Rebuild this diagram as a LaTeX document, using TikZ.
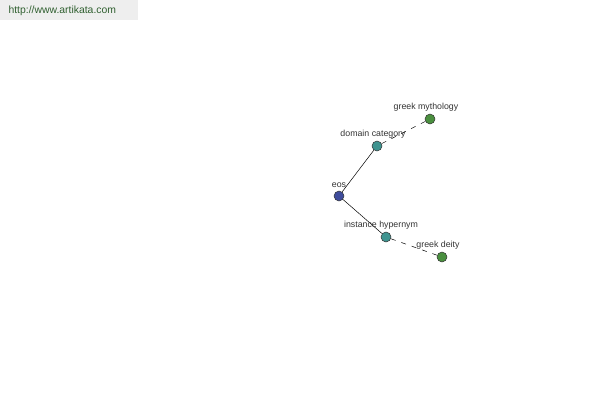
\documentclass[tikz,border=0pt]{standalone}
\usepackage{fontspec}
\setmainfont{Liberation Sans}
\definecolor{rootblue}{HTML}{3F4C9C}
\definecolor{relteal}{HTML}{3F9490}
\definecolor{leafgreen}{HTML}{4A8F3F}
\definecolor{labelgray}{HTML}{333333}
\definecolor{bannergray}{HTML}{EEEEEE}
\definecolor{bannertext}{HTML}{2F5F2F}

\begin{document}
\begin{tikzpicture}[x=1pt, y=-1pt, every node/.style={font=\fontsize{8.8}{10}\selectfont, text=labelgray},
	dot/.style={circle, draw=black!80, line width=0.5pt, minimum size=10pt, inner sep=0pt},
	link/.style={black, line width=0.5pt},
	weak/.style={link, dash pattern=on 5pt off 6pt}]
	\useasboundingbox (0,0) rectangle (600,400);
	\fill[bannergray] (0,0) rectangle (138,20);
	\node[text=bannertext, font=\fontsize{10.4}{12}\selectfont, anchor=west] (site) at (5,10.5) {http://www.artikata.com};
	\node[dot, fill=rootblue] (eos) at (339,196) {};
	\node[dot, fill=relteal] (domain) at (377,146) {};
	\node[dot, fill=leafgreen] (myth) at (430,119) {};
	\node[dot, fill=relteal] (hyper) at (386,237) {};
	\node[dot, fill=leafgreen] (deity) at (442,257) {};
	\draw[link] (eos) -- (domain);
	\draw[link] (eos) -- (hyper);
	\draw[weak] (domain) -- (myth);
	\draw[weak] (hyper) -- (deity);
	\node (eoslabel) at (339,185.5) {eos};
	\node (domainlabel) at (373,134.5) {domain category};
	\node (mythlabel) at (426,107.5) {greek mythology};
	\node (hyperlabel) at (381,225.5) {instance hypernym};
	\node (deitylabel) at (438,245.5) {greek deity};
\end{tikzpicture}
\end{document}
